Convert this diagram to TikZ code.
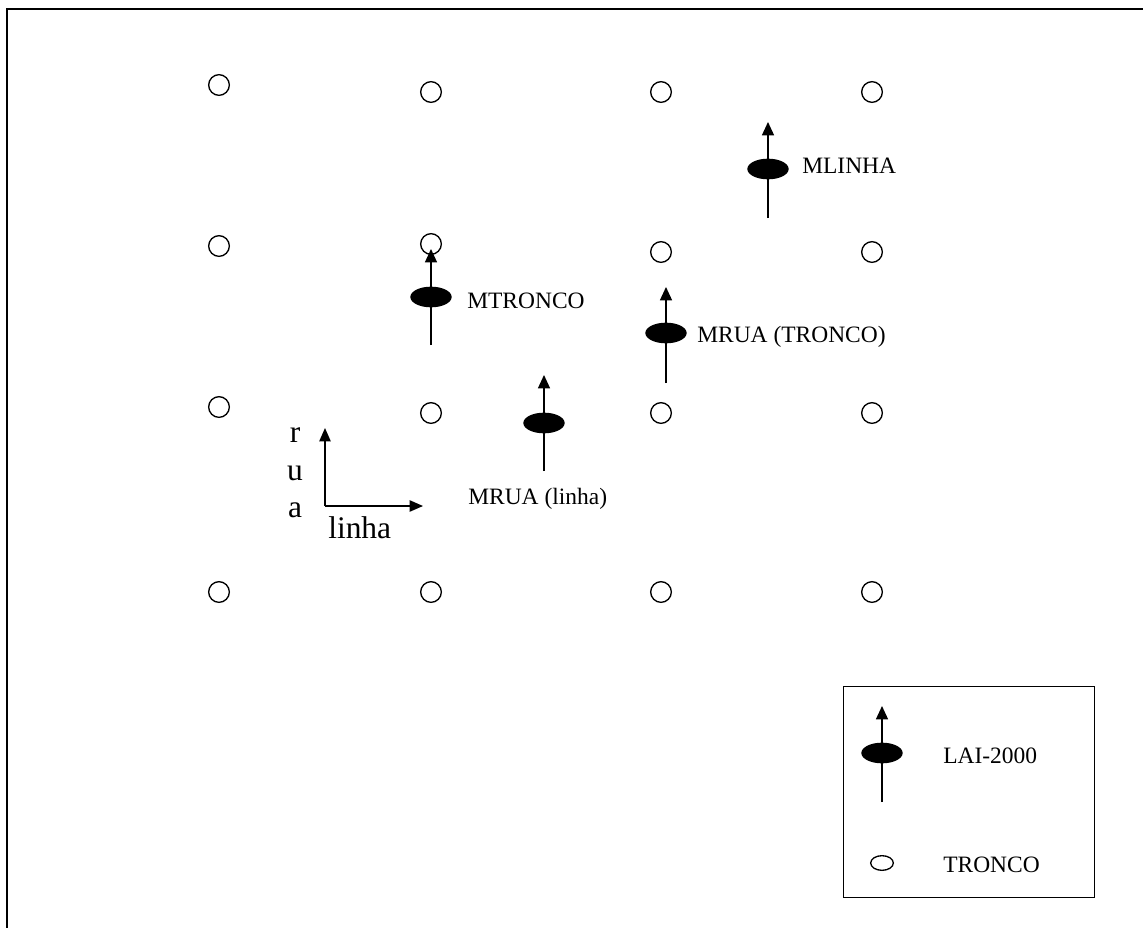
\documentclass[tikz,border=0pt]{standalone}
\usepackage{fontspec}
\setmainfont{Liberation Serif}
\usetikzlibrary{arrows.meta,shapes.geometric}
\begin{document}
\begin{tikzpicture}[x=0.75pt,y=-0.75pt,
  tree/.style={circle,draw,line width=1pt,minimum size=15.5pt,inner sep=0pt},
  sensor/.style={ellipse,fill=black,minimum width=31pt,minimum height=15.5pt,inner sep=0pt},
  smalltree/.style={ellipse,draw,line width=1pt,minimum width=17pt,minimum height=11pt,inner sep=0pt},
  pin/.style={line width=1pt,-{Triangle[length=10pt,width=9pt]}},
  lbl/.style={anchor=base west,inner sep=0pt,font=\fontsize{17.6}{20}\selectfont},
  big/.style={anchor=base,inner sep=0pt,font=\fontsize{23.6}{26}\selectfont}]
\useasboundingbox (0,0) rectangle (1143,928);
\clip (0,0) rectangle (1143,928);
% frame (only top and left edges are visible)
\draw[line width=1.6pt] (7,9) rectangle (1170,950);
% trees grid
\node[tree] (t11) at (219,85) {};
\node[tree] (t12) at (431,92) {};
\node[tree] (t13) at (661,92) {};
\node[tree] (t14) at (872,92) {};
\node[tree] (t21) at (219,246) {};
\node[tree] (t22) at (431,244) {};
\node[tree] (t23) at (661,252) {};
\node[tree] (t24) at (872,252) {};
\node[tree] (t31) at (219,407) {};
\node[tree] (t32) at (431,413) {};
\node[tree] (t33) at (661,413) {};
\node[tree] (t34) at (872,413) {};
\node[tree] (t41) at (219,592) {};
\node[tree] (t42) at (431,592) {};
\node[tree] (t43) at (661,592) {};
\node[tree] (t44) at (872,592) {};
% sensors
\coordinate (mlb) at (768,218); \coordinate (mlt) at (768,122);
\draw[pin] (mlb) -- (mlt);
\node[sensor] (ml) at (768,169) {};
\node[lbl] (mltxt) at (802,173) {MLINHA};

\coordinate (mtb) at (431,345); \coordinate (mtt) at (431,249);
\draw[pin] (mtb) -- (mtt);
\node[sensor] (mt) at (431,297) {};
\node[lbl] (mttxt) at (467,308) {MTRONCO};

\coordinate (mrtb) at (666,383); \coordinate (mrtt) at (666,287);
\draw[pin] (mrtb) -- (mrtt);
\node[sensor] (mrt) at (666,333) {};
\node[lbl] (mrttxt) at (697,342) {MRUA (TRONCO)};

\coordinate (mrlb) at (544,471); \coordinate (mrlt) at (544,375);
\draw[pin] (mrlb) -- (mrlt);
\node[sensor] (mrl) at (544,423) {};
\node[lbl] (mrltxt) at (468,504) {MRUA (linha)};

% axes
\coordinate (o) at (325,506);
\coordinate (oy) at (325,428);
\coordinate (ox) at (423,506);
\draw[line width=1pt,-{Triangle[length=10pt,width=8.5pt]}] (o) -- (oy);
\draw[line width=1pt,-{Triangle[length=10pt,width=8.5pt]}] (o) -- (ox);
\node[big] (r) at (295,442) {r};
\node[big] (u) at (295,480) {u};
\node[big] (a) at (295,517) {a};
\node[big,anchor=base west] (lin) at (328,538) {linha};

% legend
\node[draw,line width=1pt,minimum width=188pt,minimum height=158pt,inner sep=0pt,anchor=north west] (leg) at (843,686) {};
\coordinate (lgb) at (882,802); \coordinate (lgt) at (882,706);
\draw[pin] (lgb) -- (lgt);
\node[sensor] (lgs) at (882,753) {};
\node[lbl] (lgtxt) at (943,763) {LAI-2000};
\node[smalltree] (lgtree) at (882,863) {};
\node[lbl] (lgtreetxt) at (943,872) {TRONCO};
\end{tikzpicture}
\end{document}
